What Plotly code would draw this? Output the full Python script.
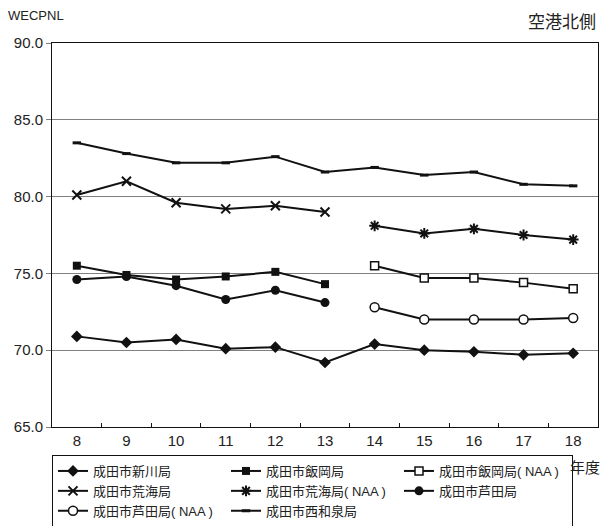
import plotly.graph_objects as go

years = ["8", "9", "10", "11", "12", "13", "14", "15", "16", "17", "18"]

shinkawa = [70.9, 70.5, 70.7, 70.1, 70.2, 69.2, 70.4, 70.0, 69.9, 69.7, 69.8]
iioka = [75.5, 74.9, 74.6, 74.8, 75.1, 74.3, None, None, None, None, None]
iioka_naa = [None, None, None, None, None, None, 75.5, 74.7, 74.7, 74.4, 74.0]
arami = [80.1, 81.0, 79.6, 79.2, 79.4, 79.0, None, None, None, None, None]
arami_naa = [None, None, None, None, None, None, 78.1, 77.6, 77.9, 77.5, 77.2]
ashida = [74.6, 74.8, 74.2, 73.3, 73.9, 73.1, None, None, None, None, None]
ashida_naa = [None, None, None, None, None, None, 72.8, 72.0, 72.0, 72.0, 72.1]
nishiwaizumi = [83.5, 82.8, 82.2, 82.2, 82.6, 81.6, 81.9, 81.4, 81.6, 80.8, 80.7]

names = ["成田市新川局", "成田市飯岡局", "成田市飯岡局( NAA )", "成田市荒海局",
         "成田市荒海局( NAA )", "成田市芦田局", "成田市芦田局( NAA )", "成田市西和泉局"]

series = [shinkawa, iioka, iioka_naa, arami, arami_naa, ashida, ashida_naa, nishiwaizumi]
markers = [
    dict(symbol="diamond", size=9, color="#111", line=dict(width=0)),
    dict(symbol="square", size=8, color="#111", line=dict(width=0)),
    dict(symbol="square", size=8, color="white", line=dict(width=1.5, color="#111")),
    dict(symbol="x-thin", size=9, color="#111", line=dict(width=2, color="#111")),
    dict(symbol="asterisk", size=9, color="#111", line=dict(width=2, color="#111")),
    dict(symbol="circle", size=9, color="#111", line=dict(width=0)),
    dict(symbol="circle", size=9, color="white", line=dict(width=1.5, color="#111")),
    dict(symbol="line-ew", size=6, color="#111", line=dict(width=3, color="#111")),
]

fig = go.Figure()
for nm, vals, mk in zip(names, series, markers):
    fig.add_trace(go.Scatter(
        x=years, y=vals, name=nm, mode="lines+markers",
        line=dict(color="#111", width=2), marker=mk, connectgaps=False,
    ))

fig.update_layout(
    width=605, height=526,
    margin=dict(l=52, r=7, t=43, b=99),
    paper_bgcolor="white", plot_bgcolor="white",
    font=dict(family="Liberation Sans, Arial, Noto Sans CJK JP", color="#222", size=15),
    showlegend=True,
    legend=dict(
        orientation="h", x=0.0, xanchor="left",
        yref="container", y=1 - 455 / 526, yanchor="top",
        entrywidth=128, entrywidthmode="pixels",
        bordercolor="#111", borderwidth=1, bgcolor="white",
        font=dict(family="Liberation Sans, Noto Sans CJK JP", size=13, color="#222"),
        tracegroupgap=0, itemwidth=30,
    ),
    xaxis=dict(
        type="category", range=[-0.5, 10.5], showgrid=False,
        showline=True, linecolor="#111", linewidth=1, mirror=True,
        ticks="inside", tickson="boundaries", ticklen=4, tickcolor="#111",
        tickfont=dict(size=15, color="#222"),
    ),
    yaxis=dict(
        range=[65, 90], dtick=5, tickformat=".1f",
        showgrid=True, gridcolor="#808080", gridwidth=1,
        showline=True, linecolor="#111", linewidth=1, mirror=True,
        ticks="outside", ticklen=5, tickcolor="#808080",
        tickfont=dict(size=15, color="#222"), zeroline=False,
    ),
    annotations=[
        dict(text="WECPNL", xref="paper", yref="paper", x=-0.085, y=1.0, xanchor="left",
             yanchor="bottom", yshift=18, showarrow=False,
             font=dict(size=13, color="#222", family="Liberation Sans, Arial")),
        dict(text="空港北側", xref="paper", yref="paper", x=1.0, y=1.0, xanchor="right",
             yanchor="bottom", yshift=8, showarrow=False,
             font=dict(size=17, color="#222", family="Noto Sans CJK JP")),
        dict(text="年度", xref="paper", yref="paper", x=1.0, y=0, xanchor="right",
             yanchor="top", yshift=-27, xshift=4, showarrow=False,
             font=dict(size=15, color="#222", family="Noto Sans CJK JP")),
    ],
)

fig.write_html("out.html", config={"displayModeBar": False})
with open("out.html", encoding="utf-8") as f:
    html = f.read()
html = html.replace("<body>", '<body style="margin:0;padding:0;overflow:hidden">', 1)
with open("out.html", "w", encoding="utf-8") as f:
    f.write(html)
